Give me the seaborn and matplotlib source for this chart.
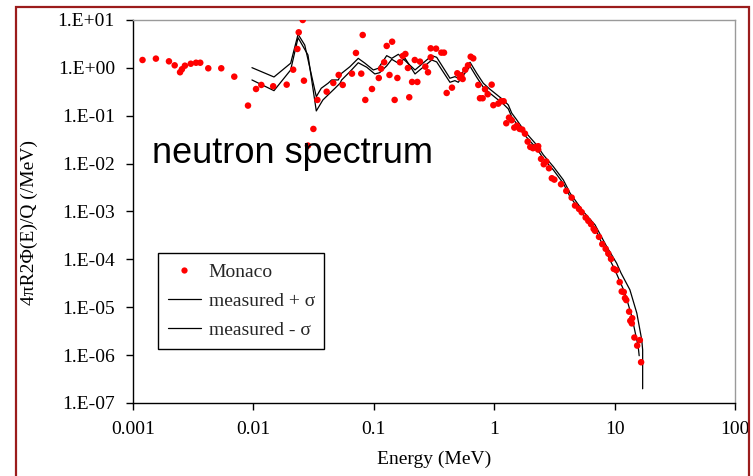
import matplotlib
matplotlib.use('Agg')
import matplotlib.pyplot as plt
import seaborn as sns
import pandas as pd
from matplotlib.patches import Rectangle
from matplotlib.lines import Line2D
from matplotlib.ticker import FixedLocator, FixedFormatter, NullLocator

# ---------------- data ----------------
monaco_E = [0.00120, 0.00155, 0.00199, 0.00222, 0.00246, 0.00255, 0.00270, 0.00302, 0.00334, 0.00362,
            0.00422, 0.00541, 0.00694, 0.00902, 0.01052, 0.01164, 0.0146, 0.0189, 0.0214, 0.0232,
            0.0238, 0.0257, 0.0263, 0.0284, 0.0315, 0.0340, 0.0406, 0.0461, 0.0511, 0.0552,
            0.0659, 0.0711, 0.0787, 0.0809, 0.0850, 0.0966, 0.110, 0.115, 0.122, 0.128,
            0.135, 0.142, 0.149, 0.157, 0.165, 0.174, 0.183, 0.192, 0.197, 0.208,
            0.219, 0.230, 0.242, 0.268, 0.282, 0.297, 0.297, 0.329, 0.364, 0.383,
            0.403, 0.446, 0.494, 0.520, 0.533, 0.547, 0.575, 0.606, 0.638, 0.670,
            0.738, 0.762, 0.802, 0.839, 0.883, 0.953, 0.984, 1.081, 1.138, 1.198,
            1.26, 1.327, 1.397, 1.469, 1.546, 1.628, 1.711, 1.801, 1.897, 1.994,
            2.10, 2.21, 2.32, 2.32, 2.45, 2.58, 2.71, 2.85, 3.01, 3.16,
            3.59, 3.97, 4.40, 4.69, 5.06, 5.33, 5.75, 6.05, 6.37, 6.70,
            6.88, 7.42, 7.90, 8.43, 8.87, 9.34, 9.84, 10.33, 11.02, 11.46,
            11.91, 12.2, 12.5, 13.2, 13.5, 14.0, 13.9, 14.6, 16.2, 15.4, 16.6]
monaco_flux = [1.46, 1.56, 1.37, 1.13, 0.81, 0.935, 1.11, 1.22, 1.28, 1.28,
               0.98, 0.98, 0.655, 0.163, 0.362, 0.44, 0.413, 0.446, 0.916, 2.48,
               5.53, 10.0, 0.54, 0.0238, 0.053, 0.214, 0.318, 0.484, 0.711, 0.44,
               0.757, 2.05, 0.757, 4.86, 0.214, 0.362, 0.615, 0.962, 1.31, 2.87,
               0.711, 3.52, 0.214, 0.615, 1.31, 1.77, 1.95, 0.995, 0.243, 0.508,
               1.46, 0.508, 1.35, 1.06, 0.81, 2.56, 1.66, 2.52, 2.08, 2.08,
               0.299, 0.386, 0.771, 0.623, 0.70, 0.586, 0.916, 1.13, 1.71, 1.58,
               0.44, 0.232, 0.232, 0.357, 0.281, 0.446, 0.166, 0.179, 0.201, 0.201,
               0.0697, 0.0912, 0.0805, 0.0565, 0.0621, 0.053, 0.0513, 0.0423, 0.0288, 0.0223,
               0.021, 0.0223, 0.0196, 0.0231, 0.01254, 0.0097, 0.0110, 0.0080, 0.00495, 0.00463,
               0.00371, 0.00269, 0.00195, 0.00133, 0.00113, 0.000966, 0.000746, 0.000637, 0.000543, 0.000433,
               0.000394, 0.000295, 0.000208, 0.000166, 0.000132, 0.000102, 6.33e-5, 5.95e-5, 3.34e-5, 2.13e-5,
               2.08e-5, 1.55e-5, 1.41e-5, 8.1e-6, 5.2e-6, 5.9e-6, 4.6e-6, 2.33e-6, 2.06e-6, 1.58e-6, 7.1e-7]

plus_E = [0.00973, 0.01483, 0.0204, 0.0235, 0.0267, 0.0333, 0.0366, 0.0417, 0.0447, 0.0507,
          0.0541, 0.0634, 0.0743, 0.0845, 0.0991, 0.109, 0.128, 0.141, 0.160, 0.220,
          0.303, 0.333, 0.429, 0.472, 0.503, 0.630, 0.716, 0.812, 0.923, 1.19,
          1.31, 1.40, 1.54, 1.80, 2.25, 2.56, 3.10, 3.75, 4.27, 5.50,
          6.88, 8.60, 10.4, 11.3, 13.4, 15.3, 16.8, 17.1, 17.1]
plus_flux = [1.01, 0.645, 1.25, 5.03, 3.0, 0.25, 0.375, 0.477, 0.559, 0.559,
             0.771, 1.06, 1.58, 1.25, 0.904, 0.98, 1.80, 1.58, 1.92, 0.904,
             1.80, 1.66, 0.607, 0.655, 0.607, 1.31, 0.771, 0.477, 0.357, 0.214,
             0.168, 0.113, 0.0817, 0.0466, 0.0246, 0.0152, 0.00865, 0.00457, 0.00241, 0.000995,
             0.000525, 0.000185, 8.3e-5, 5.2e-5, 2.31e-5, 7.5e-6, 2.09e-6, 1.29e-6, 1.98e-7]

minus_E = [0.00973, 0.01483, 0.0204, 0.0235, 0.0284, 0.0333, 0.0378, 0.0476, 0.0524, 0.0541,
           0.0634, 0.0743, 0.0874, 0.102, 0.112, 0.128, 0.141, 0.160, 0.182, 0.220,
           0.303, 0.333, 0.429, 0.472, 0.503, 0.630, 0.716, 0.812, 0.923, 1.19,
           1.31, 1.40, 1.54, 1.80, 2.25, 2.56, 3.10, 3.75, 4.27, 5.50,
           6.88, 8.32, 10.07, 12.2, 13.9, 15.7, 16.0]
minus_flux = [0.559, 0.334, 0.904, 4.27, 1.86, 0.126, 0.214, 0.375, 0.477, 0.559,
              0.833, 1.28, 1.03, 0.746, 0.794, 1.10, 1.51, 1.25, 1.58, 0.746,
              1.46, 1.33, 0.500, 0.541, 0.500, 1.08, 0.637, 0.394, 0.295, 0.176,
              0.139, 0.0944, 0.0674, 0.0388, 0.0208, 0.0128, 0.00738, 0.00386, 0.00202, 0.000849,
              0.000444, 0.000158, 6.0e-5, 1.97e-5, 6.4e-6, 1.51e-6, 9.7e-7]

x_ticks = [0.001, 0.01, 0.1, 1, 10, 100]
x_tick_labels = ['0.001', '0.01', '0.1', '1', '10', '100']
y_ticks = [1e-7, 1e-6, 1e-5, 1e-4, 1e-3, 1e-2, 1e-1, 1e0, 1e1]
y_tick_labels = ['1.E-07', '1.E-06', '1.E-05', '1.E-04', '1.E-03', '1.E-02', '1.E-01', '1.E+00', '1.E+01']

series_names = ['Monaco', 'measured + σ', 'measured - σ']

# ---------------- plot ----------------
sns.set_theme(style='ticks')
plt.rcParams['font.family'] = ['Liberation Serif', 'DejaVu Serif']

fig = plt.figure(figsize=(7.53, 4.76), dpi=100)
fig.patch.set_facecolor('white')
ax = fig.add_axes([0.1766, 0.1534, 0.7995, 0.8046])
ax.set_facecolor('white')

df_m = pd.DataFrame({'E': monaco_E, 'flux': monaco_flux})
df_p = pd.DataFrame({'E': plus_E, 'flux': plus_flux})
df_n = pd.DataFrame({'E': minus_E, 'flux': minus_flux})

sns.lineplot(data=df_p, x='E', y='flux', sort=False, estimator=None, color='black', lw=0.9, ax=ax)
sns.lineplot(data=df_n, x='E', y='flux', sort=False, estimator=None, color='black', lw=0.9, ax=ax)
sns.scatterplot(data=df_m, x='E', y='flux', color='#ff0000', s=22, edgecolor='none', linewidth=0, ax=ax, zorder=3)

ax.set_xscale('log')
ax.set_yscale('log')
ax.set_xlim(0.001, 100)
ax.set_ylim(1e-7, 10)
ax.xaxis.set_major_locator(FixedLocator(x_ticks))
ax.xaxis.set_major_formatter(FixedFormatter(x_tick_labels))
ax.yaxis.set_major_locator(FixedLocator(y_ticks))
ax.yaxis.set_major_formatter(FixedFormatter(y_tick_labels))
ax.xaxis.set_minor_locator(NullLocator())
ax.yaxis.set_minor_locator(NullLocator())
ax.grid(False)

for side in ['left', 'bottom']:
    ax.spines[side].set_color('black')
    ax.spines[side].set_linewidth(1.0)
for side in ['top', 'right']:
    ax.spines[side].set_visible(True)
    ax.spines[side].set_color('#9a9a9a')
    ax.spines[side].set_linewidth(1.0)

ax.tick_params(axis='both', which='major', direction='out', length=5, width=1,
               color='black', labelsize=14, labelcolor='black', pad=8)

ax.set_xlabel('Energy (MeV)', fontsize=14, color='black')
ax.xaxis.set_label_coords(0.5, -0.125)
ax.set_ylabel('4πR2Φ(E)/Q (/MeV)', fontsize=14, color='black')
ax.yaxis.set_label_coords(-0.158, 0.47)

ax.text(0.00144, 0.0103, 'neutron spectrum', fontsize=26, family=['Liberation Sans', 'DejaVu Sans'],
        color='black', ha='left', va='baseline')

handles = [
    Line2D([], [], marker='o', color='#ff0000', linestyle='none', markersize=4.5, markeredgewidth=0),
    Line2D([], [], color='black', lw=0.9),
    Line2D([], [], color='black', lw=0.9),
]
leg = ax.legend(handles, series_names, loc='lower left', bbox_to_anchor=(0.0415, 0.141),
                borderaxespad=0, frameon=True, fancybox=False, framealpha=1,
                edgecolor='black', fontsize=14, handlelength=1.7, handletextpad=0.4,
                labelspacing=0.6, borderpad=0.5)
leg.get_frame().set_linewidth(1.0)

# dark red border around the picture
border = Rectangle((16 / 753, -0.05), (749 - 16) / 753, 1.05 - 7 / 476, transform=fig.transFigure,
                   fill=False, edgecolor='#9b1c1c', linewidth=1.6, clip_on=False)
fig.patches.append(border)

fig.savefig('out.png', dpi=100, facecolor='white')
